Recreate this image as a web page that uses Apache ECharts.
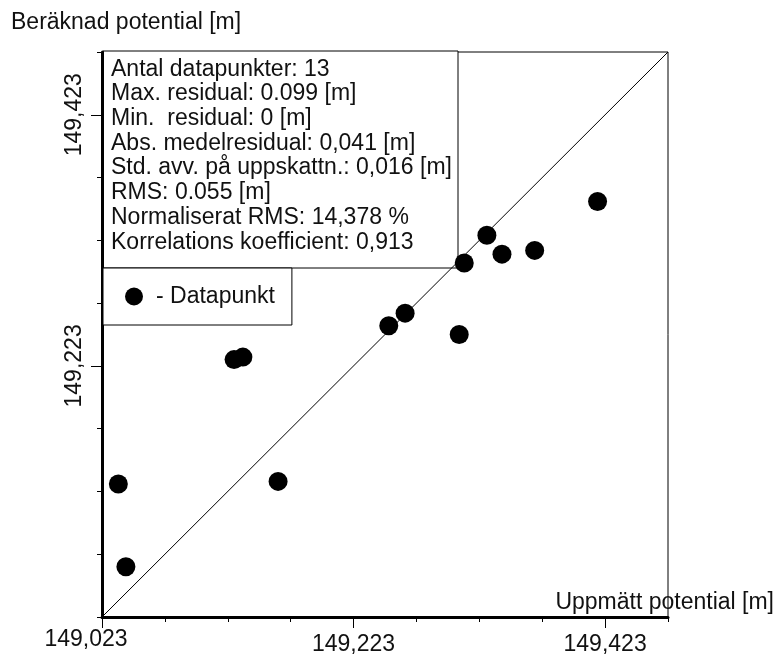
<!DOCTYPE html>
<html>
<head>
<meta charset="utf-8">
<script src="https://cdn.jsdelivr.net/npm/echarts@6/dist/echarts.min.js"></script>
<style>
  html, body { margin: 0; padding: 0; background: #fff; }
  #chart { width: 777px; height: 656px; }
</style>
</head>
<body>
<div id="chart"></div>
<script>
// uppmätt (x) och beräknad (y) potential, 13 datapunkter
var measured = [149.036, 149.042, 149.128, 149.135, 149.163, 149.251, 149.264, 149.307, 149.311, 149.329, 149.341, 149.367, 149.417];
var computed = [149.129, 149.063, 149.228, 149.230, 149.131, 149.255, 149.265, 149.248, 149.305, 149.327, 149.312, 149.315, 149.354];

var axisMin = 149.023;
var axisMax = 149.473;
var xLabelTicks = [149.023, 149.223, 149.423];
var yLabelTicks = [149.223, 149.423];
var smallTicks = [149.023, 149.073, 149.123, 149.173, 149.223, 149.273, 149.323, 149.373, 149.423, 149.473];

var statsLines = [
  'Antal datapunkter: 13',
  'Max. residual: 0.099 [m]',
  'Min.  residual: 0 [m]',
  'Abs. medelresidual: 0,041 [m]',
  'Std. avv. på uppskattn.: 0,016 [m]',
  'RMS: 0.055 [m]',
  'Normaliserat RMS: 14,378 %',
  'Korrelations koefficient: 0,913'
];

var font = '"Liberation Sans", Arial, sans-serif';
var points = [];
for (var i = 0; i < measured.length; i++) {
  points.push([measured[i], computed[i]]);
}

function fmt(v) {
  return v.toFixed(3).replace('.', ',');
}

var myChart = echarts.init(document.getElementById('chart'));
var option = {
  backgroundColor: '#fff',
  animation: false,
  title: {
    text: 'Beräknad potential [m]',
    left: 11, top: 11, padding: 0,
    textStyle: { fontFamily: font, fontSize: 23, fontWeight: 'normal', color: '#111' }
  },
  legend: {
    left: 103, top: 268,
    padding: [17, 17, 17, 22],
    itemWidth: 18, itemHeight: 18,
    backgroundColor: '#fff',
    borderColor: '#000', borderWidth: 1, borderRadius: 0,
    formatter: '- {name}',
    textStyle: { fontFamily: font, fontSize: 23, color: '#111', padding: [0, 0, 0, 8] },
    data: [{ name: 'Datapunkt', icon: 'circle' }],
    z: 20
  },
  grid: {
    left: 102, top: 52, right: 107, bottom: 39,
    show: true, borderColor: '#000', borderWidth: 1
  },
  xAxis: [{
    type: 'value', min: axisMin, max: axisMax, position: 'bottom',
    name: 'Uppmätt potential [m]', nameLocation: 'end', nameGap: 106,
    nameTextStyle: { fontFamily: font, fontSize: 23, color: '#111', align: 'right', verticalAlign: 'bottom', padding: [0, 0, 3, 0] },
    axisLine: { lineStyle: { color: '#000', width: 3 } },
    axisTick: { customValues: xLabelTicks, length: 11, lineStyle: { color: '#000', width: 1 } },
    axisLabel: {
      customValues: xLabelTicks, margin: 11,
      formatter: function (v, idx) { return (v === xLabelTicks[0] ? '{o|' : '{n|') + fmt(v) + '}'; },
      rich: {
        o: { fontFamily: font, fontSize: 23, color: '#111', padding: [0, 32, 0, 0] },
        n: { fontFamily: font, fontSize: 23, color: '#111', padding: [5, 0, 0, 0] }
      }
    },
    splitLine: { show: false }
  }, {
    type: 'value', min: axisMin, max: axisMax, position: 'bottom',
    axisLine: { show: false },
    axisTick: { customValues: smallTicks, length: 5, lineStyle: { color: '#000', width: 1 } },
    axisLabel: { show: false },
    splitLine: { show: false }
  }],
  yAxis: [{
    type: 'value', min: axisMin, max: axisMax, position: 'left',
    axisLine: { lineStyle: { color: '#000', width: 3 } },
    axisTick: { customValues: yLabelTicks, length: 11, lineStyle: { color: '#000', width: 1 } },
    axisLabel: {
      customValues: yLabelTicks, rotate: 90, margin: 16,
      fontFamily: font, fontSize: 23, color: '#111',
      formatter: fmt
    },
    splitLine: { show: false }
  }, {
    type: 'value', min: axisMin, max: axisMax, position: 'left',
    axisLine: { show: false },
    axisTick: { customValues: smallTicks, length: 5, lineStyle: { color: '#000', width: 1 } },
    axisLabel: { show: false },
    splitLine: { show: false }
  }],
  graphic: [{
    type: 'group', z: 20,
    children: [{
      type: 'rect',
      shape: { x: 103, y: 51, width: 355, height: 217 },
      style: { fill: '#fff', stroke: '#000', lineWidth: 1 }
    }, {
      type: 'text', x: 111, y: 57,
      style: { text: statsLines.join('\n'), font: '23px ' + font, lineHeight: 24.7, fill: '#111' }
    }]
  }],
  series: [{
    name: 'diagonal',
    type: 'line',
    xAxisIndex: 0, yAxisIndex: 0,
    data: [[axisMin, axisMin], [axisMax, axisMax]],
    showSymbol: false, silent: true,
    lineStyle: { color: '#000', width: 1 }
  }, {
    name: 'Datapunkt',
    type: 'scatter',
    xAxisIndex: 0, yAxisIndex: 0,
    symbol: 'circle', symbolSize: 19,
    itemStyle: { color: '#000', opacity: 1 },
    data: points,
    z: 5
  }]
};
myChart.setOption(option);
</script>
</body>
</html>
